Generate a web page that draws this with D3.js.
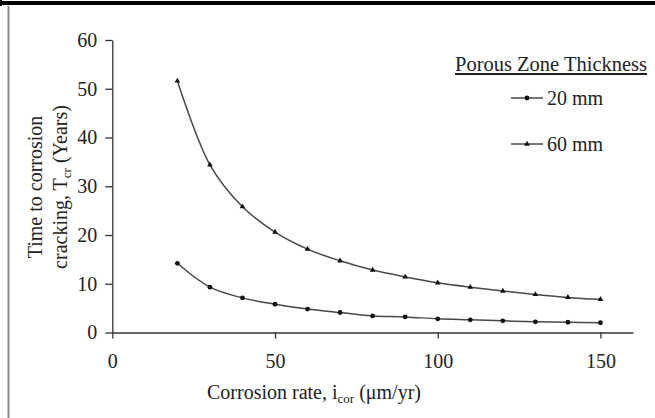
<!DOCTYPE html>
<html><head><meta charset="utf-8">
<script src="https://cdn.jsdelivr.net/npm/d3@7"></script>
<style>
html,body{margin:0;padding:0;background:#fff;}
svg{display:block;}
text{font-family:"Liberation Serif","Times New Roman",serif;}
</style></head>
<body>
<svg id="c" width="655" height="418"></svg>
<script>
const corrosionRate = [20,30,40,50,60,70,80,90,100,110,120,130,140,150];
const series20mm = [14.2,9.3,7.1,5.8,4.8,4.1,3.4,3.2,2.8,2.6,2.4,2.2,2.1,2.0];
const series60mm = [51.6,34.4,25.8,20.6,17.1,14.7,12.8,11.4,10.2,9.3,8.5,7.8,7.2,6.8];
const seriesNames = ["20 mm","60 mm"];
const xTicks = [0,50,100,150];
const yTicks = [0,10,20,30,40,50,60];
const legendTitle = "Porous Zone Thickness";

const svg = d3.select("#c");
svg.append("rect").attr("width",655).attr("height",418).attr("fill","#fff");
// frame
svg.append("rect").attr("x",0).attr("y",1).attr("width",655).attr("height",4).attr("fill","#000");
svg.append("rect").attr("x",0).attr("y",0).attr("width",2).attr("height",6).attr("fill","#000");
svg.append("line").attr("x1",8.5).attr("x2",8.5).attr("y1",6).attr("y2",418).attr("stroke","#8a8a8a").attr("stroke-width",2);

const x = d3.scaleLinear().domain([0,160]).range([112.3,633]);
const y = d3.scaleLinear().domain([0,60]).range([332.5,40]);
const ink = "#333";

const yAxis = svg.append("g").attr("transform",`translate(${x(0)},0)`)
  .call(d3.axisLeft(y).tickValues(yTicks).tickSize(7).tickSizeOuter(0).tickPadding(8));
const xAxis = svg.append("g").attr("transform",`translate(0,${y(0)})`)
  .call(d3.axisBottom(x).tickValues(xTicks).tickSize(6).tickSizeOuter(0).tickPadding(15));
[yAxis,xAxis].forEach(g=>{
  g.selectAll("path,line").attr("stroke",ink).attr("stroke-width",1.3);
  g.selectAll("text").attr("fill","#222").style("font-size","20px").style("font-family","Liberation Serif");
});

const data = [series20mm, series60mm];
const line = d3.line().x((d,i)=>x(corrosionRate[i])).y(d=>y(d)).curve(d3.curveCatmullRom.alpha(0.5));
const tri = d3.symbol().type(d3.symbolTriangle).size(14);
data.forEach((s,k)=>{
  svg.append("path").attr("d",line(s)).attr("fill","none").attr("stroke","#484848").attr("stroke-width",1.5);
  s.forEach((v,i)=>{
    if(k===0) svg.append("circle").attr("cx",x(corrosionRate[i])).attr("cy",y(v)).attr("r",2.4).attr("fill","#111");
    else svg.append("path").attr("d",tri()).attr("transform",`translate(${x(corrosionRate[i])},${y(v)})`).attr("fill","#111");
  });
});

// legend
svg.append("text").attr("x",455).attr("y",71).attr("fill","#222").style("font-size","20.5px")
  .style("text-decoration","underline").text(legendTitle);
[98,144].forEach((ly,k)=>{
  svg.append("line").attr("x1",511).attr("x2",543).attr("y1",ly).attr("y2",ly).attr("stroke","#484848").attr("stroke-width",1.5);
  if(k===0) svg.append("circle").attr("cx",527).attr("cy",ly).attr("r",2.4).attr("fill","#111");
  else svg.append("path").attr("d",tri()).attr("transform",`translate(527,${ly})`).attr("fill","#111");
  svg.append("text").attr("x",547).attr("y",ly+7).attr("fill","#222").style("font-size","20px").text(seriesNames[k]);
});

// y title
const yt = svg.append("g").attr("transform","translate(0,187) rotate(-90)");
yt.append("text").attr("x",0).attr("y",42).attr("text-anchor","middle").attr("fill","#222").style("font-size","20px").text("Time to corrosion");
const t2 = yt.append("text").attr("x",0).attr("y",67).attr("text-anchor","middle").attr("fill","#222").style("font-size","20px");
t2.append("tspan").text("cracking, T");
t2.append("tspan").attr("dy",4).style("font-size","13px").text("cr");
t2.append("tspan").attr("dy",-4).text(" (Years)");

// x title
const xt = svg.append("text").attr("x",314).attr("y",399).attr("text-anchor","middle").attr("fill","#222").style("font-size","20px");
xt.append("tspan").text("Corrosion rate, i");
xt.append("tspan").attr("dy",4).style("font-size","13px").text("cor");
xt.append("tspan").attr("dy",-4).text(" (μm/yr)");
</script>
</body></html>
